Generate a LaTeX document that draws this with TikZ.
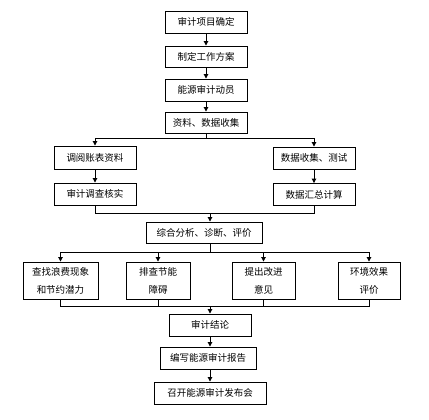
\documentclass[tikz,border=0pt]{standalone}
\usepackage{fontspec}
\newfontfamily\cjk{Noto Sans CJK SC}
\usetikzlibrary{arrows.meta}
\begin{document}
\begin{tikzpicture}[x=1pt,y=-1pt,
  box/.style={draw,line width=0.9pt,inner sep=0pt,font=\cjk\fontsize{9.5}{18}\selectfont,align=center},
  conn/.style={line width=0.9pt},
  arr/.style={conn,-{Triangle[length=4.5pt,width=4.5pt]}}]
\useasboundingbox[fill=white] (0,0) rectangle (429,420);
% top column
\node[box,minimum width=82,minimum height=22] (p1) at (206,22) {审计项目确定};
\node[box,minimum width=82,minimum height=21] (p2) at (206,56.5) {制定工作方案};
\node[box,minimum width=82,minimum height=22] (p3) at (206,90) {能源审计动员};
\node[box,minimum width=82,minimum height=21] (p4) at (206,122.5) {资料、数据收集};
% two branches
\node[box,minimum width=82,minimum height=23] (la) at (95,157.5) {调阅账表资料};
\node[box,minimum width=82,minimum height=22] (lb) at (95,194) {审计调查核实};
\node[box,minimum width=82,minimum height=22] (ra) at (314,158) {数据收集、测试};
\node[box,minimum width=82,minimum height=22] (rb) at (314,194.5) {数据汇总计算};
% analysis
\node[box,minimum width=116,minimum height=21] (zh) at (204,232.5) {综合分析、诊断、评价};
% four boxes
\node[box,minimum width=75,minimum height=37] (b1) at (60.5,280.5) {查找浪费现象\\和节约潜力};
\node[box,minimum width=64,minimum height=37] (b2) at (158,280.5) {排查节能\\障碍};
\node[box,minimum width=63,minimum height=37] (b3) at (263.5,280.5) {提出改进\\意见};
\node[box,minimum width=62,minimum height=37] (b4) at (369,280.5) {环境效果\\评价};
% bottom column
\node[box,minimum width=82,minimum height=22] (jl) at (210,325) {审计结论};
\node[box,minimum width=96,minimum height=22] (bg) at (208,358) {编写能源审计报告};
\node[box,minimum width=112,minimum height=22] (fb) at (210,393) {召开能源审计发布会};
% connectors
\draw[arr] (p1) -- (p2);
\draw[arr] (p2) -- (p3);
\draw[arr] (p3) -- (p4);
\coordinate (s1) at (206,138);
\draw[conn] (p4.south) -- (s1);
\draw[arr] (s1) -| (la.north);
\draw[arr] (s1) -| (ra.north);
\draw[arr] (la) -- (lb);
\draw[arr] (ra) -- (rb);
\coordinate (m1) at (210,213);
\draw[conn] (lb.south) |- (m1);
\draw[conn] (rb.south) |- (m1);
\draw[arr] (m1) -- (m1 |- zh.north);
\coordinate (s2) at (210,252);
\draw[conn] (s2 |- zh.south) -- (s2);
\draw[arr] (s2) -| (b1.north);
\draw[arr] (s2) -| (b2.north);
\draw[arr] (s2) -| (b3.north);
\draw[arr] (s2) -| (b4.north);
\coordinate (m2) at (210,306);
\draw[conn] (b1.south) |- (m2);
\draw[conn] (b2.south) |- (m2);
\draw[conn] (b3.south) |- (m2);
\draw[conn] (b4.south) |- (m2);
\draw[arr] (m2) -- (jl.north);
\draw[arr] (jl.south) -- (jl.south |- bg.north);
\draw[arr] (jl.south |- bg.south) -- (fb.north);
\end{tikzpicture}
\end{document}
